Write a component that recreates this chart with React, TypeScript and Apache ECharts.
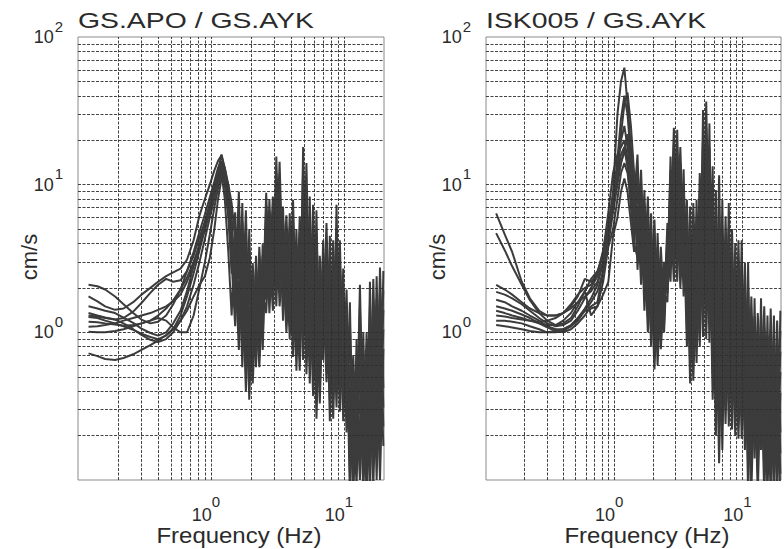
import React, { useEffect, useRef } from "react";
import * as echarts from "echarts";

// ---------- data ----------
const TITLE_LEFT = "GS.APO / GS.AYK";
const TITLE_RIGHT = "ISK005 / GS.AYK";
const X_NAME = "Frequency (Hz)";
const Y_NAME = "cm/s";

const X_TICK_EXP = [0, 1];
const Y_TICK_EXP = [0, 1, 2];

const GRID_X = [0.2, 0.3, 0.4, 0.5, 0.6, 0.7, 0.8, 0.9, 1, 2, 3, 4, 5, 6, 7, 8, 9, 10];
const GRID_Y = [0.2, 0.3, 0.4, 0.5, 0.6, 0.7, 0.8, 0.9, 1, 2, 3, 4, 5, 6, 7, 8, 9, 10, 20, 30, 40, 50, 60, 70, 80, 90];

// frequencies (Hz) of the smooth low-frequency part
const FREQ_LOW = [0.12, 0.14, 0.16, 0.19, 0.22, 0.26, 0.3, 0.35, 0.4, 0.46, 0.52, 0.59, 0.66, 0.74, 0.82, 0.9, 0.98, 1.06, 1.13, 1.2, 1.27, 1.35, 1.43];
// frequencies (Hz) of the noisy high-frequency part
const FREQ_HIGH = [1.52, 1.62, 1.72, 1.83, 1.94, 2.06, 2.18, 2.31, 2.45, 2.6, 2.75, 2.92, 3.1, 3.28, 3.48, 3.69, 3.91, 4.14, 4.39, 4.65, 4.93, 5.22, 5.53, 5.86, 6.21, 6.58, 6.97, 7.39, 7.83, 8.3, 8.79, 9.31, 9.87, 10.46, 11.08, 11.74, 12.44, 13.18, 13.97, 14.8, 15.68, 16.62, 17.61, 18.66, 19.77];

// GS.APO / GS.AYK : one row per trace, values at FREQ_LOW
const APO_LOW = [
  [2.1, 2.05, 1.95, 1.75, 1.55, 1.35, 1.22, 1.15, 1.18, 1.3, 1.55, 1.95, 2.6, 3.5, 4.8, 6.3, 8.2, 10.5, 13, 14.5, 11, 7, 4.5],
  [1.75, 1.62, 1.5, 1.42, 1.45, 1.6, 1.8, 2.0, 2.2, 2.4, 2.55, 2.7, 3.1, 4.2, 6.2, 8.0, 10, 12.5, 14.5, 15.8, 13, 9.5, 6],
  [1.35, 1.3, 1.26, 1.22, 1.25, 1.38, 1.58, 1.85, 2.1, 2.3, 2.2, 2.25, 2.6, 3.3, 4.4, 5.6, 7.2, 9.2, 11.5, 13, 12, 10, 7.5],
  [1.27, 1.25, 1.2, 1.15, 1.1, 1.04, 0.98, 0.93, 0.9, 0.95, 1.05, 1.3, 1.75, 2.5, 3.6, 5.0, 7.0, 9.5, 12.5, 16, 12.5, 7.5, 3],
  [1.18, 1.17, 1.15, 1.13, 1.11, 1.12, 1.15, 1.2, 1.3, 1.45, 1.65, 1.95, 2.35, 3.0, 3.9, 5.0, 6.6, 8.5, 11, 12.5, 10, 6, 2.5],
  [1.09, 1.1, 1.12, 1.15, 1.2, 1.25, 1.3, 1.35, 1.42, 1.5, 1.62, 1.8, 2.2, 2.9, 3.8, 5.0, 6.8, 8.8, 11.5, 14, 13, 10, 5],
  [1.01, 1.0, 1.0, 1.02, 1.05, 1.1, 1.15, 1.2, 1.25, 1.2, 1.08, 1.0, 1.0, 1.3, 2.0, 3.0, 4.6, 7.0, 9.5, 12, 8, 3.5, 1.3],
  [0.72, 0.69, 0.66, 0.65, 0.67, 0.71, 0.76, 0.82, 0.88, 0.96, 1.06, 1.2, 1.4, 1.75, 2.1, 2.4, 3.2, 5.0, 8.0, 11, 11.5, 8, 4],
  [1.5, 1.45, 1.4, 1.35, 1.26, 1.16, 1.06, 0.99, 0.95, 1.0, 1.15, 1.4, 1.9, 2.8, 4.0, 5.6, 7.5, 10, 12.5, 14, 10.5, 6.5, 3.5],
  [1.3, 1.28, 1.25, 1.22, 1.15, 1.05, 0.96, 0.89, 0.86, 0.9, 1.0, 1.2, 1.5, 2.1, 3.0, 4.3, 6.0, 8.0, 10.5, 13.5, 12, 8.5, 5.5],
];
// GS.APO / GS.AYK : one row per frequency of FREQ_HIGH, one column per trace
const APO_HIGH = [
  [6.5, 1.6, 4.4, 1.1, 3.0, 2.0, 5.3, 1.35, 3.6, 2.4],
  [1.0, 6.8, 1.7, 4.0, 0.76, 9, 2.3, 5.2, 1.3, 3.0],
  [7.5, 1.0, 4.2, 0.58, 2.4, 1.35, 5.6, 0.77, 3.2, 1.8],
  [0.55, 4.9, 1.0, 2.6, 0.4, 6.7, 1.4, 3.6, 0.75, 1.9],
  [5.0, 0.63, 2.8, 0.35, 1.5, 0.85, 3.7, 0.47, 2.1, 1.15],
  [0.55, 2.4, 0.84, 1.58, 0.45, 2.95, 1.04, 1.95, 0.68, 1.28],
  [3.3, 0.85, 2.25, 0.58, 1.5, 1.03, 2.7, 0.7, 1.85, 1.25],
  [0.72, 3.1, 1.1, 2.0, 0.58, 3.8, 1.35, 2.5, 0.88, 1.65],
  [4.0, 1.1, 2.8, 0.76, 1.9, 1.35, 3.3, 0.92, 2.3, 1.6],
  [1.65, 7.1, 2.5, 4.7, 1.35, 8.8, 3.1, 5.8, 2.05, 3.8],
  [8.0, 2.0, 5.4, 1.35, 3.6, 2.45, 6.6, 1.65, 4.4, 3.0],
  [1.7, 6.8, 2.5, 4.6, 1.4, 8.3, 3.1, 5.6, 2.1, 3.8],
  [15.5, 2.5, 9.2, 1.5, 5.5, 3.3, 12, 1.95, 7.1, 4.2],
  [1.95, 11.1, 3.2, 6.8, 1.5, 14.3, 4.1, 8.7, 2.5, 5.3],
  [7.1, 1.8, 4.8, 1.2, 3.2, 2.2, 5.8, 1.45, 3.9, 2.65],
  [1.2, 5.1, 1.85, 3.4, 1.0, 6.2, 2.25, 4.1, 1.5, 2.8],
  [6.4, 1.4, 4.1, 0.9, 2.7, 1.75, 5.1, 1.1, 3.3, 2.15],
  [0.9, 6.0, 1.55, 3.5, 0.68, 7.9, 2.05, 4.6, 1.2, 2.7],
  [5.0, 0.9, 3.05, 0.55, 1.9, 1.15, 3.9, 0.7, 2.4, 1.45],
  [0.72, 4.7, 1.25, 2.75, 0.55, 6.1, 1.6, 3.6, 0.95, 2.1],
  [18, 1.35, 8.6, 0.65, 4.1, 2.0, 12.5, 0.94, 6.0, 2.85],
  [0.75, 9.7, 1.55, 4.7, 0.52, 14, 2.25, 6.7, 1.08, 3.2],
  [8.3, 0.86, 4.35, 0.45, 2.3, 1.2, 6.0, 0.62, 3.15, 1.65],
  [0.52, 5.2, 1.0, 2.7, 0.37, 7.3, 1.4, 3.75, 0.72, 1.95],
  [6.7, 0.53, 3.25, 0.26, 1.57, 0.76, 4.7, 0.37, 2.25, 1.1],
  [0.42, 2.55, 0.7, 1.5, 0.33, 3.3, 0.9, 2.0, 0.55, 1.17],
  [4.2, 1.0, 2.8, 0.65, 1.85, 1.2, 3.4, 0.8, 2.25, 1.5],
  [0.6, 4.2, 1.05, 2.4, 0.46, 5.5, 1.38, 3.2, 0.8, 1.8],
  [4.5, 0.48, 2.35, 0.25, 1.25, 0.65, 3.25, 0.35, 1.72, 0.9],
  [0.35, 3.1, 0.66, 1.65, 0.26, 4.2, 0.9, 2.25, 0.48, 1.2],
  [7.3, 0.63, 3.6, 0.31, 1.8, 0.9, 5.1, 0.44, 2.55, 1.27],
  [0.39, 3.1, 0.7, 1.72, 0.29, 4.2, 0.95, 2.3, 0.52, 1.28],
  [2.7, 0.42, 1.6, 0.25, 0.94, 0.55, 2.07, 0.33, 1.22, 0.72],
  [0.27, 1.52, 0.44, 0.93, 0.21, 1.95, 0.56, 1.19, 0.34, 0.72],
  [1.6, 0.157, 0.82, 0.08, 0.42, 0.22, 1.15, 0.112, 0.59, 0.3],
  [0.1, 0.55, 0.165, 0.34, 0.08, 0.7, 0.21, 0.43, 0.13, 0.27],
  [0.9, 0.15, 0.54, 0.09, 0.32, 0.19, 0.7, 0.116, 0.42, 0.25],
  [0.14, 1.5, 0.28, 0.76, 0.1, 2.1, 0.39, 1.07, 0.2, 0.54],
  [1.0, 0.14, 0.57, 0.08, 0.33, 0.19, 0.76, 0.106, 0.43, 0.25],
  [0.106, 0.76, 0.19, 0.43, 0.08, 1.0, 0.25, 0.57, 0.14, 0.33],
  [2.2, 0.166, 1.05, 0.08, 0.5, 0.24, 1.52, 0.115, 0.73, 0.35],
  [0.128, 1.6, 0.26, 0.78, 0.09, 2.3, 0.38, 1.12, 0.183, 0.54],
  [2.4, 0.2, 1.19, 0.1, 0.59, 0.29, 1.69, 0.14, 0.83, 0.41],
  [0.145, 1.9, 0.3, 0.91, 0.1, 2.75, 0.44, 1.32, 0.21, 0.63],
  [2.6, 0.31, 1.42, 0.17, 0.77, 0.42, 1.92, 0.23, 1.05, 0.57],
];

// ISK005 / GS.AYK : one row per trace, values at FREQ_LOW
const ISK_LOW = [
  [6.4, 4.6, 3.5, 2.2, 1.7, 1.4, 1.3, 1.3, 1.35, 1.45, 1.6, 1.75, 1.9, 2.2, 2.9, 4.5, 8, 15, 28, 40, 30, 15, 8],
  [4.7, 3.6, 2.8, 2.1, 1.65, 1.35, 1.2, 1.12, 1.15, 1.25, 1.5, 1.9, 2.3, 2.6, 3.3, 5, 9, 30, 50, 62, 35, 18, 9],
  [2.1, 1.95, 1.8, 1.6, 1.45, 1.35, 1.3, 1.3, 1.35, 1.5, 1.75, 2.3, 2.2, 2.5, 3.5, 6.5, 12, 16, 18, 20, 15, 9, 5],
  [1.88, 1.8, 1.7, 1.55, 1.4, 1.25, 1.15, 1.1, 1.12, 1.2, 1.4, 1.7, 2.0, 2.4, 3.0, 4.5, 7.5, 13, 22, 35, 42, 25, 12],
  [1.66, 1.6, 1.5, 1.4, 1.3, 1.2, 1.1, 1.05, 1.05, 1.1, 1.2, 1.4, 1.45, 1.5, 2.2, 3.8, 5, 8, 12, 14, 12, 8, 4.5],
  [1.5, 1.45, 1.4, 1.32, 1.25, 1.15, 1.08, 1.02, 1.0, 1.05, 1.15, 1.3, 1.5, 1.6, 2.6, 4.2, 7.5, 11, 14, 17, 14, 10, 6],
  [1.4, 1.35, 1.3, 1.25, 1.2, 1.15, 1.12, 1.12, 1.2, 1.35, 1.6, 1.9, 1.3, 1.5, 1.8, 2.2, 4.5, 6, 9, 11, 9, 5.5, 3.5],
  [1.3, 1.28, 1.25, 1.22, 1.2, 1.18, 1.2, 1.25, 1.35, 1.55, 1.8, 2.0, 2.1, 2.5, 3.6, 5.5, 8.5, 12, 16, 18, 13, 7, 4],
  [1.2, 1.2, 1.18, 1.15, 1.1, 1.05, 1.0, 1.0, 1.02, 1.1, 1.25, 1.45, 1.7, 2.1, 3.0, 4.8, 8, 12.5, 20, 25, 18, 11, 6],
  [1.12, 1.1, 1.08, 1.05, 1.02, 1.0, 1.0, 1.02, 1.05, 1.12, 1.25, 1.4, 1.6, 1.9, 2.6, 4.0, 6.5, 10, 14, 17, 22, 13, 7],
];
// ISK005 / GS.AYK : one row per frequency of FREQ_HIGH, one column per trace
const ISK_HIGH = [
  [16, 3.95, 10.7, 2.65, 7.2, 4.8, 13.1, 3.2, 8.8, 5.9],
  [2.55, 10.3, 3.8, 6.9, 2.1, 12.6, 4.65, 8.5, 3.1, 5.7],
  [9.2, 2.1, 6.05, 1.4, 4.0, 2.6, 7.5, 1.7, 4.9, 3.2],
  [1.26, 6.55, 2.0, 4.1, 1.0, 8.3, 2.55, 5.2, 1.6, 3.25],
  [6.4, 1.27, 4.0, 0.8, 2.55, 1.6, 5.1, 1.0, 3.2, 2.0],
  [0.72, 4.5, 1.22, 2.65, 0.56, 5.8, 1.58, 3.45, 0.94, 2.05],
  [4.7, 0.95, 3.0, 0.6, 1.9, 1.2, 3.75, 0.76, 2.35, 1.5],
  [0.92, 3.2, 1.3, 2.2, 0.77, 3.8, 1.56, 2.65, 1.1, 1.87],
  [3.0, 1.28, 2.35, 1.0, 1.85, 1.45, 2.65, 1.13, 2.1, 1.63],
  [1.83, 4.8, 2.4, 3.65, 1.6, 5.5, 2.8, 4.2, 2.1, 3.2],
  [15.5, 3.4, 10, 2.2, 6.5, 4.2, 12.5, 2.75, 8.1, 5.25],
  [2.9, 18.6, 4.9, 10.9, 2.2, 24.3, 6.4, 14.2, 3.75, 8.4],
  [23.5, 3.7, 13.9, 2.2, 8.2, 4.85, 18, 2.85, 10.7, 6.3],
  [2.55, 14.1, 4.15, 8.65, 2.0, 18, 5.3, 11, 3.25, 6.8],
  [12.7, 2.7, 8.2, 1.75, 5.25, 3.4, 10.2, 2.2, 6.55, 4.2],
  [1.03, 6.1, 1.7, 3.7, 0.8, 7.9, 2.2, 4.75, 1.33, 2.85],
  [7.1, 0.83, 3.85, 0.45, 2.1, 1.13, 5.2, 0.61, 2.85, 1.53],
  [0.64, 5.5, 1.18, 2.98, 0.47, 7.5, 1.6, 4.05, 0.87, 2.2],
  [7.9, 1.09, 4.5, 0.62, 2.55, 1.45, 5.95, 0.82, 3.4, 1.92],
  [1.08, 8.9, 1.97, 4.9, 0.8, 12, 2.65, 6.6, 1.46, 3.6],
  [32, 2.05, 14.6, 0.93, 6.65, 3.03, 21.6, 1.38, 9.85, 4.5],
  [1.35, 24.2, 3.08, 10.6, 0.9, 36.6, 4.65, 16, 2.04, 7.0],
  [26, 1.82, 12.2, 0.85, 5.7, 2.65, 17.8, 1.24, 8.3, 3.9],
  [0.52, 8.9, 1.18, 3.95, 0.35, 13.3, 1.76, 5.9, 0.79, 2.65],
  [9.2, 0.47, 3.9, 0.2, 1.7, 0.72, 6.0, 0.31, 2.6, 1.1],
  [0.215, 7.05, 0.58, 2.6, 0.13, 11.6, 0.96, 4.3, 0.35, 1.57],
  [7.9, 0.38, 3.3, 0.16, 1.4, 0.58, 5.1, 0.245, 2.15, 0.9],
  [0.345, 4.25, 0.71, 2.07, 0.24, 6.1, 1.01, 2.97, 0.49, 1.45],
  [7.5, 0.5, 3.45, 0.23, 1.6, 0.73, 5.1, 0.34, 2.35, 1.08],
  [0.31, 3.55, 0.62, 1.77, 0.22, 5.0, 0.88, 2.5, 0.44, 1.25],
  [4.0, 0.39, 2.05, 0.2, 1.05, 0.54, 2.87, 0.28, 1.47, 0.76],
  [0.27, 2.98, 0.53, 1.5, 0.19, 4.2, 0.75, 2.1, 0.38, 1.06],
  [4.2, 0.38, 2.1, 0.19, 1.06, 0.53, 2.98, 0.27, 1.5, 0.75],
  [0.22, 2.13, 0.42, 1.12, 0.16, 2.95, 0.58, 1.54, 0.305, 0.81],
  [2.95, 0.18, 1.32, 0.08, 0.59, 0.27, 1.98, 0.12, 0.89, 0.4],
  [0.113, 1.24, 0.225, 0.62, 0.08, 1.75, 0.32, 0.88, 0.16, 0.44],
  [1.7, 0.245, 0.98, 0.14, 0.56, 0.32, 1.29, 0.185, 0.74, 0.43],
  [0.11, 0.99, 0.205, 0.53, 0.08, 1.35, 0.28, 0.72, 0.15, 0.385],
  [1.7, 0.27, 1.0, 0.16, 0.6, 0.35, 1.31, 0.21, 0.77, 0.46],
  [0.11, 1.08, 0.21, 0.56, 0.08, 1.5, 0.295, 0.78, 0.153, 0.41],
  [1.3, 0.148, 0.7, 0.08, 0.375, 0.2, 0.95, 0.108, 0.51, 0.275],
  [0.11, 1.05, 0.21, 0.55, 0.08, 1.45, 0.29, 0.76, 0.152, 0.4],
  [1.3, 0.148, 0.7, 0.08, 0.375, 0.2, 0.95, 0.108, 0.51, 0.275],
  [0.108, 0.89, 0.197, 0.49, 0.08, 1.2, 0.265, 0.66, 0.146, 0.36],
  [1.4, 0.151, 0.74, 0.08, 0.39, 0.21, 1.02, 0.11, 0.54, 0.285],
];

// ---------- styling ----------
const FONT = "Liberation Sans, Arial, Helvetica, sans-serif";
const TEXT = "#2b2b2b";
const LINE = "#3c3c3c";
const PANELS = [
  { left: 78, title: TITLE_LEFT, low: APO_LOW, high: APO_HIGH },
  { left: 486, title: TITLE_RIGHT, low: ISK_LOW, high: ISK_HIGH },
];
const PLOT_TOP = 37;
const PLOT_W = 306;
const PLOT_H = 443;

function isDecade(v: number, exps: number[]) {
  const e = Math.log10(v);
  const r = Math.round(e);
  return Math.abs(e - r) < 1e-6 && exps.indexOf(r) >= 0 ? r : null;
}

function buildOption() {
  const grids = PANELS.map((p) => ({
    left: p.left,
    top: PLOT_TOP,
    width: PLOT_W,
    height: PLOT_H,
    show: true,
    backgroundColor: "#ffffff",
    borderColor: "#8a8a8a",
    borderWidth: 1,
    containLabel: false,
  }));

  const richX = {
    b: { fontSize: 18, fontFamily: FONT, color: TEXT, verticalAlign: "middle" },
    s: { fontSize: 15, fontFamily: FONT, color: TEXT, verticalAlign: "middle", padding: [0, 0, 26, 0] },
  };
  const richY = {
    b: { fontSize: 18, fontFamily: FONT, color: TEXT, verticalAlign: "middle" },
    s: { fontSize: 15, fontFamily: FONT, color: TEXT, verticalAlign: "middle", padding: [0, 0, 22, 1] },
  };

  const xAxes = PANELS.map((_, i) => ({
    type: "log",
    logBase: 10,
    gridIndex: i,
    min: 0.1,
    max: 20,
    axisLine: { show: false },
    axisTick: { show: false },
    splitLine: { show: false },
    axisLabel: {
      margin: 14,
      padding: [0, 10, 0, 0],
      formatter: (v: number) => {
        const r = isDecade(v, X_TICK_EXP);
        return r === null ? "" : `{b|10}{s|${r}}`;
      },
      rich: richX,
    },
  }));
  const yAxes = PANELS.map((_, i) => ({
    type: "log",
    logBase: 10,
    gridIndex: i,
    min: 0.1,
    max: 100,
    axisLine: { show: false },
    axisTick: { show: false },
    splitLine: { show: false },
    axisLabel: {
      margin: 15,
      formatter: (v: number) => {
        const r = isDecade(v, Y_TICK_EXP);
        return r === null ? "" : `{b|10}{s|${r}}`;
      },
      rich: richY,
    },
  }));

  const series: any[] = [];
  PANELS.forEach((p, gi) => {
    series.push({
      type: "line",
      xAxisIndex: gi,
      yAxisIndex: gi,
      data: [],
      z: 1,
      silent: true,
      markLine: {
        silent: true,
        symbol: "none",
        animation: false,
        label: { show: false },
        lineStyle: { type: [3, 1.5], color: "#2e2e2e", width: 0.9 },
        data: [
          ...GRID_X.map((v) => ({ xAxis: v })),
          ...GRID_Y.map((v) => ({ yAxis: v })),
        ],
      },
    });
    p.low.forEach((row, k) => {
      const data: number[][] = [];
      FREQ_LOW.forEach((f, i) => data.push([f, row[i]]));
      FREQ_HIGH.forEach((f, j) => data.push([f, p.high[j][k]]));
      series.push({
        type: "line",
        xAxisIndex: gi,
        yAxisIndex: gi,
        data,
        z: 2,
        showSymbol: false,
        symbol: "none",
        clip: true,
        silent: true,
        lineStyle: { color: LINE, width: 2, join: "bevel" },
      });
    });
  });

  const graphic: any[] = [];
  PANELS.forEach((p) => {
    graphic.push({
      type: "text",
      x: p.left,
      y: 20,
      scaleX: 1.29,
      silent: true,
      style: { text: p.title, fontSize: 22, fontFamily: FONT, fill: TEXT, align: "left", verticalAlign: "middle" },
    });
    graphic.push({
      type: "text",
      x: p.left + 161,
      y: 535,
      scaleX: 1.09,
      silent: true,
      style: { text: X_NAME, fontSize: 22, fontFamily: FONT, fill: TEXT, align: "center", verticalAlign: "middle" },
    });
    graphic.push({
      type: "text",
      x: p.left - 49,
      y: 257,
      rotation: Math.PI / 2,
      silent: true,
      style: { text: Y_NAME, fontSize: 22, fontFamily: FONT, fill: TEXT, align: "center", verticalAlign: "middle" },
    });
  });

  return {
    animation: false,
    backgroundColor: "#ffffff",
    grid: grids,
    xAxis: xAxes,
    yAxis: yAxes,
    series,
    graphic,
  };
}

export default function App() {
  const ref = useRef<HTMLDivElement>(null);
  useEffect(() => {
    if (!ref.current) return;
    const chart = echarts.init(ref.current, null, { renderer: "svg" });
    chart.setOption(buildOption() as any);
    return () => chart.dispose();
  }, []);
  return (
    <div
      ref={ref}
      style={{ position: "fixed", left: 0, top: 0, width: 784, height: 549, background: "#ffffff" }}
    />
  );
}
